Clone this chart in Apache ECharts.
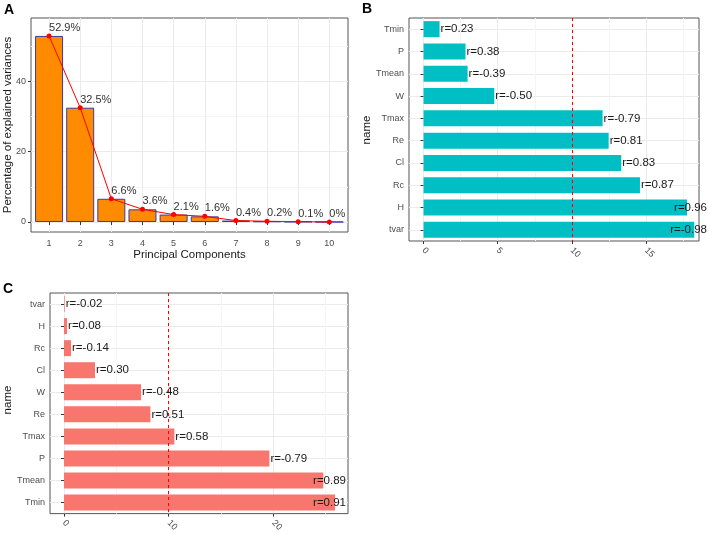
<!DOCTYPE html>
<html><head><meta charset="utf-8">
<script src="https://cdn.jsdelivr.net/npm/echarts@6/dist/echarts.min.js"></script>
<style>html,body{margin:0;padding:0;background:#fff}#c{width:708px;height:534px}</style>
</head><body><div id="c"></div>
<script>
// ---- data ----
const pcIndex = [1, 2, 3, 4, 5, 6, 7, 8, 9, 10];
const pcVariance = [52.9, 32.5, 6.6, 3.6, 2.1, 1.6, 0.4, 0.2, 0.1, 0];
const aYTicks = [0, 20, 40];
const aYMinor = [10, 30, 50];

const bNames = ['Tmin', 'P', 'Tmean', 'W', 'Tmax', 'Re', 'Cl', 'Rc', 'H', 'tvar'];
const bContrib = [1.08, 2.83, 2.97, 4.77, 12.07, 12.48, 13.33, 14.59, 17.76, 18.25];
const bR = [0.23, 0.38, -0.39, -0.50, -0.79, 0.81, 0.83, 0.87, 0.96, -0.98];
const bXTicks = [0, 5, 10, 15];
const bXMinor = [2.5, 7.5, 12.5, 17.5];

const cNames = ['tvar', 'H', 'Rc', 'Cl', 'W', 'Re', 'Tmax', 'P', 'Tmean', 'Tmin'];
const cContrib = [0.06, 0.29, 0.67, 2.96, 7.36, 8.25, 10.54, 19.62, 24.77, 25.89];
const cR = [-0.02, 0.08, -0.14, 0.30, -0.48, 0.51, 0.58, -0.79, 0.89, 0.91];
const cXTicks = [0, 10, 20];
const cXMinor = [5, 15, 25];

const refLine = 10;

// ---- styling ----
const FONT = '"Liberation Sans", Arial, sans-serif';
const GRID_MAJOR = '#EBEBEB';
const GRID_MINOR = '#F5F5F5';
const tickLabel = { color: '#4D4D4D', fontSize: 9, fontFamily: FONT };
const tickStyle = { show: true, length: 3, lineStyle: { color: '#333', width: 1 } };

const grids = [
  { left: 31, top: 18, width: 317, height: 214 },
  { left: 409, top: 18, width: 290, height: 223 },
  { left: 50, top: 293, width: 298, height: 223 }
].map(g => Object.assign(g, { show: true, borderColor: '#555', borderWidth: 1, backgroundColor: '#fff', containLabel: false }));

function majorValueAxis(gridIndex, min, max, ticks, extra) {
  return Object.assign({
    type: 'value', gridIndex, min, max,
    axisLine: { show: false },
    axisTick: Object.assign({ customValues: ticks }, tickStyle),
    axisLabel: Object.assign({ customValues: ticks, margin: 5 }, tickLabel),
    splitLine: { show: true, lineStyle: { color: GRID_MAJOR, width: 1 } }
  }, extra || {});
}
function minorValueAxis(gridIndex, min, max, ticks) {
  return {
    type: 'value', gridIndex, min, max,
    axisLine: { show: false },
    axisTick: { show: false, customValues: ticks },
    axisLabel: { show: false },
    splitLine: { show: true, lineStyle: { color: GRID_MINOR, width: 1 } }
  };
}
function categoryAxis(gridIndex, names) {
  return {
    type: 'category', gridIndex, data: names, inverse: true,
    axisLine: { show: false },
    axisTick: Object.assign({ alignWithLabel: true }, tickStyle),
    axisLabel: Object.assign({ margin: 5 }, tickLabel),
    splitLine: { show: true, alignWithLabel: true, lineStyle: { color: GRID_MAJOR, width: 1 } }
  };
}

const xAxes = [
  majorValueAxis(0, 0.42, 10.6, pcIndex, { axisLabel: Object.assign({ customValues: pcIndex, margin: 7 }, tickLabel) }),
  majorValueAxis(1, -0.98, 18.57, bXTicks, { axisLabel: Object.assign({ customValues: bXTicks, margin: 8, rotate: -45 }, tickLabel) }),
  minorValueAxis(1, -0.98, 18.57, bXMinor),
  majorValueAxis(2, -1.34, 27.13, cXTicks, { axisLabel: Object.assign({ customValues: cXTicks, margin: 8, rotate: -45 }, tickLabel) }),
  minorValueAxis(2, -1.34, 27.13, cXMinor)
];
const yAxes = [
  majorValueAxis(0, -2.85, 58, aYTicks),
  minorValueAxis(0, -2.85, 58, aYMinor),
  categoryAxis(1, bNames),
  categoryAxis(2, cNames)
];

const barLabel = { show: true, position: 'right', distance: 1, color: '#1a1a1a', fontSize: 11.5, fontFamily: FONT };
const dashLine = {
  silent: true, symbol: 'none', label: { show: false },
  lineStyle: { color: '#FF0000', type: [3, 3], width: 1 },
  data: [{ xAxis: refLine }]
};

const pcData = pcIndex.map((x, i) => [x, pcVariance[i]]);

function textG(text, x, y, opts) {
  return Object.assign({
    type: 'text', x, y,
    style: Object.assign({ text, fill: '#1a1a1a', font: '11.5px ' + FONT, align: 'center', verticalAlign: 'middle' }, (opts && opts.style) || {})
  }, opts && opts.rotation ? { rotation: opts.rotation } : {});
}

const option = {
  animation: false,
  backgroundColor: '#fff',
  grid: grids,
  xAxis: xAxes,
  yAxis: yAxes,
  graphic: [
    textG('A', 4, 10, { style: { font: 'bold 14px ' + FONT, align: 'left', fill: '#000' } }),
    textG('B', 362, 9, { style: { font: 'bold 14px ' + FONT, align: 'left', fill: '#000' } }),
    textG('C', 3, 289, { style: { font: 'bold 14px ' + FONT, align: 'left', fill: '#000' } }),
    textG('Percentage of explained variances', 7.5, 125, { rotation: Math.PI / 2 }),
    textG('Principal Components', 189.5, 254.5),
    textG('name', 367, 130, { rotation: Math.PI / 2 }),
    textG('name', 7.5, 400, { rotation: Math.PI / 2 })
  ],
  series: [
    {
      type: 'bar', xAxisIndex: 0, yAxisIndex: 0, data: pcData, barWidth: 28,
      itemStyle: { color: '#FF8C00', borderColor: '#3a3aa8', borderWidth: 1 }
    },
    {
      type: 'line', xAxisIndex: 0, yAxisIndex: 0, data: pcData, z: 5,
      symbol: 'circle', symbolSize: 5,
      lineStyle: { color: '#FF0000', width: 1 },
      itemStyle: { color: '#FF0000' },
      label: {
        show: true, position: 'top', align: 'left', verticalAlign: 'bottom', distance: 0,
        color: '#333', fontSize: 11, fontFamily: FONT,
        formatter: p => p.value[1] + '%'
      }
    },
    {
      type: 'bar', xAxisIndex: 1, yAxisIndex: 2, data: bContrib, barWidth: 16,
      itemStyle: { color: '#00BFC4' },
      label: Object.assign({ formatter: p => 'r=' + bR[p.dataIndex].toFixed(2) }, barLabel),
      markLine: dashLine
    },
    {
      type: 'bar', xAxisIndex: 3, yAxisIndex: 3, data: cContrib, barWidth: 16,
      itemStyle: { color: '#F8766D' },
      label: Object.assign({ formatter: p => 'r=' + cR[p.dataIndex].toFixed(2) }, barLabel),
      markLine: dashLine
    }
  ]
};

const chart = echarts.init(document.getElementById('c'), null, { renderer: 'canvas' });
chart.setOption(option);

// keep labels from running past the panel: shift them left when needed
const ctx = document.createElement('canvas').getContext('2d');
ctx.font = '11.5px ' + FONT;
function clampData(values, rs, xAxisIndex, yAxisIndex, limitPx) {
  return values.map((v, i) => {
    const px = chart.convertToPixel({ xAxisIndex, yAxisIndex }, [v, i])[0];
    const w = ctx.measureText('r=' + rs[i].toFixed(2)).width;
    const end = px + 1 + w;
    if (end > limitPx) return { value: v, label: { offset: [limitPx - end, 0] } };
    return v;
  });
}
const gB = grids[1], gC = grids[2];
chart.setOption({
  series: [{}, {},
    { data: clampData(bContrib, bR, 1, 2, gB.left + gB.width + 8) },
    { data: clampData(cContrib, cR, 3, 3, gC.left + gC.width - 2) }
  ]
});
</script>
</body></html>
